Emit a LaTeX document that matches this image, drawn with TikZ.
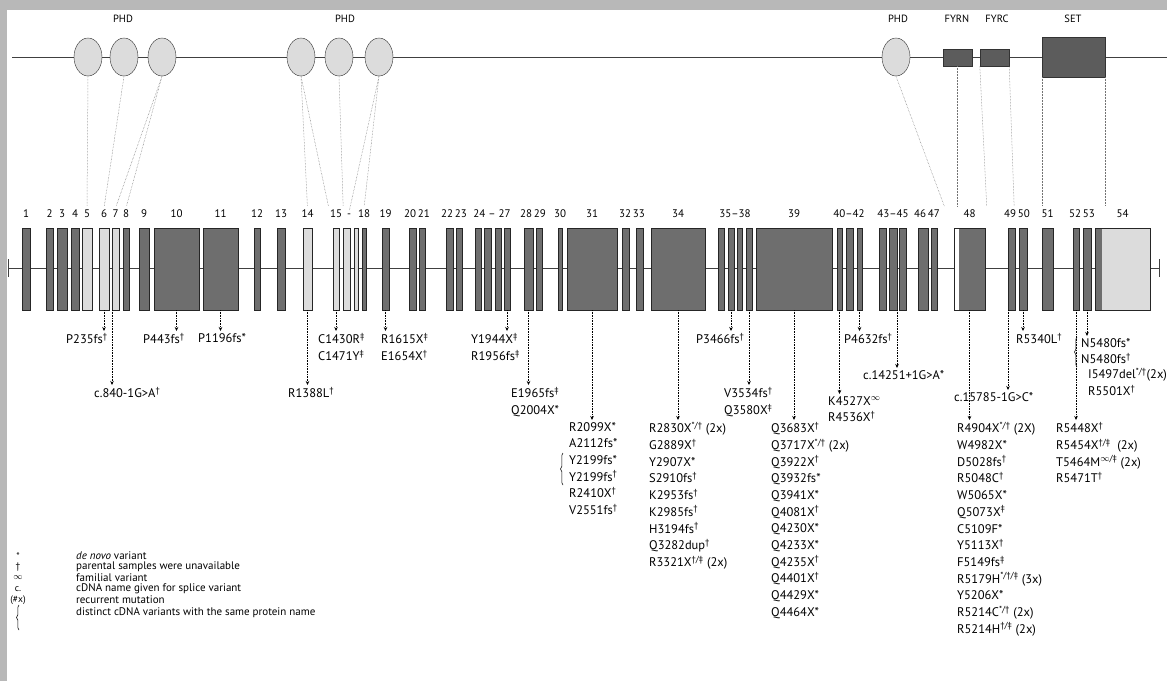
\documentclass[tikz,border=0pt]{standalone}
\usepackage{fontspec}
\setmainfont{PT Sans}
\usepackage{tikz}
\usetikzlibrary{arrows.meta,shapes.geometric,decorations.pathreplacing}

\newcommand\sdag{\textsuperscript{\textdagger}}
\newcommand\sddag{\textsuperscript{\textdaggerdbl}}
\newcommand\sinf{\textsuperscript{$\infty$}}

\definecolor{exdark}{HTML}{6E6E6E}
\definecolor{exlight}{HTML}{DCDCDC}
\definecolor{dombox}{HTML}{5C5C5C}
\definecolor{frame}{HTML}{B8B8B8}

\begin{document}
\begin{tikzpicture}[x=1pt, y=-1pt,
    exon/.style ={rectangle, draw=black!85, line width=0.5pt, fill=exdark, minimum height=82pt, inner sep=0pt, outer sep=0pt},
    lexon/.style={exon, fill=exlight},
    phd/.style  ={ellipse, draw=black!80, fill=exlight, minimum width=28pt, minimum height=38pt, inner sep=0pt},
    dom/.style  ={rectangle, draw=black!80, fill=dombox, inner sep=0pt},
    dlabel/.style={font=\fontsize{10.5}{12}\selectfont},
    num/.style  ={font=\fontsize{11}{12}\selectfont, inner sep=1pt, anchor=base},
    var/.style  ={font=\fontsize{12.5}{16.7}\selectfont, align=left, inner sep=1pt, anchor=north west},
    key/.style  ={font=\fontsize{11}{12}\selectfont, inner sep=1pt},
    sym/.style  ={font=\fontsize{9.5}{10}\selectfont, inner sep=0pt},
    guide/.style={densely dotted, black!55, line width=0.5pt, shorten >=2pt},
    arr/.style  ={densely dotted, line width=0.6pt, shorten >=1pt, -{Stealth[length=4pt, width=3.5pt]}},
    brc/.style  ={decorate, decoration={brace, amplitude=2.5pt}, line width=0.5pt}
]
  \useasboundingbox (0,0) rectangle (1167,681);
  \fill[frame] (0,0) rectangle (1167,10);
  \fill[frame] (0,0) rectangle (7,681);

  % protein
  \coordinate (pstart) at (12,57);
  \coordinate (pend)   at (1167,57);
  \draw[black!75, line width=0.6pt] (pstart) -- (pend);
  \foreach \n/\x in {1/88, 2/124, 3/162, 4/301, 5/339, 6/379, 7/896}
    \node[phd] (p\n) at (\x,57) {};
  \node[dom, minimum width=29pt, minimum height=17pt] (fyrn) at (957.5,57.5) {};
  \node[dom, minimum width=29pt, minimum height=17pt] (fyrc) at (994.5,57.5) {};
  \node[dom, minimum width=63pt, minimum height=40pt] (set)  at (1073.5,57) {};
  \node[dlabel] (lphdA) at (123,19) {PHD};
  \node[dlabel] (lphdB) at (345,19) {PHD};
  \node[dlabel] (lphdC) at (898,19) {PHD};
  \node[dlabel] (lfyrn) at (957,19) {FYRN};
  \node[dlabel] (lfyrc) at (997,19) {FYRC};
  \node[dlabel] (lset)  at (1073,19) {SET};

  % gene
  \coordinate (gstart) at (8,268);
  \coordinate (gend)   at (1160,268);
  \draw[black!75, line width=0.6pt, {Bar[width=18pt]}-{Bar[width=18pt]}] (gstart) -- (gend);
  \foreach \n/\a/\b in {1/22/30, 2/46/53, 3/57/67, 4/71/79, 8/123/129, 9/139/149, 10/154/199,
      11/203/238, 12/254/260, 13/277/285, 18/362/366, 19/382/389, 20/409/416, 21/419/425,
      22/446/453, 23/456/462, 24/475/481, 25/484/491, 26/495/501, 27/504/510, 28/524/533,
      29/536/542, 30/558/562, 31/567/617, 32/622/629, 33/636/643, 34/651/705, 35/718/724,
      36/728/734, 37/737/742, 38/746/752, 39/756/832, 40/837/842, 41/846/853, 42/857/862,
      43/879/886, 44/889/897, 45/899/906, 46/918/928, 47/931/937, 49/1008/1015,
      50/1019/1027, 51/1042/1053, 52/1073/1079, 53/1083/1091}
    \node[exon, minimum width={(\b-\a)*1pt}] (e\n) at ({(\a+\b)/2},269) {};
  \foreach \n/\a/\b in {5/82/92, 6/99/109, 7/112/119, 14/303/312, 15/333/339, 16/343/350, 17/354/358}
    \node[lexon, minimum width={(\b-\a)*1pt}] (e\n) at ({(\a+\b)/2},269) {};
  \node[exon, minimum width=31pt, path picture={\fill[white] (path picture bounding box.north west) rectangle ([xshift=5pt]path picture bounding box.south west);}] (e48) at (969.5,269) {};
  \node[lexon, minimum width=55pt, path picture={\fill[exdark] (path picture bounding box.north west) rectangle ([xshift=7pt]path picture bounding box.south west);}] (e54) at (1122.5,269) {};

  % exon numbers
  \foreach \n in {1,...,15,18,19,30,31,34,39,48,51,54}
    \node[num, yshift=11pt] (n\n) at (e\n.north) {\n};
  \node[num] (n16) at (349,217)  {-};
  \node[num] (n20) at (417,217)  {20\,21};
  \node[num] (n22) at (454,217)  {22\,23};
  \node[num] (n24) at (492,217)  {24 -- 27};
  \node[num] (n28) at (533,217)  {28\,29};
  \node[num] (n32) at (632,217)  {32\,33};
  \node[num] (n35) at (735,217)  {35--38};
  \node[num] (n40) at (849,217)  {40--42};
  \node[num] (n43) at (893,217)  {43--45};
  \node[num] (n46) at (927,217)  {46\,47};
  \node[num] (n49) at (1017,217) {49\,50};
  \node[num] (n52) at (1082,217) {52\,53};

  % domains to exons
  \draw[guide] (p1.south) -- (n5.north);
  \draw[guide] (p2.south) -- (n6.north);
  \draw[guide] (p3.south) -- (n7.north);
  \draw[guide] (p3.south) -- (n8.north);
  \draw[guide] (p4.south) -- (n14.north);
  \draw[guide] (p4.south) -- (n15.north west);
  \draw[guide] (p5.south) -- (n15.north east);
  \draw[guide] (p6.south) -- (n16.north);
  \draw[guide] (p6.south) -- (n18.north);
  \draw[guide] (p7.south) -- ([xshift=8pt]e47.north east |- n48.north);
  \draw[guide] (fyrn.south) -- (fyrn.south |- n48.north);
  \draw[guide] (fyrc.south west) -- ([xshift=7pt]fyrc.south west |- n48.north);
  \draw[guide] (fyrc.south east) -- ([xshift=5pt]fyrc.south east |- n49.north);
  \draw[guide] (set.south west) -- (set.south west |- n51.north);
  \draw[guide] (set.south east) -- (set.south east |- n54.north);

  % variants
  \node[var] (v235)  at (65,332)   {P235fs\sdag};
  \node[var] (v443)  at (142,332)  {P443fs\sdag};
  \node[var] (v1196) at (197,332)  {P1196fs*};
  \node[var] (v1430) at (317,332)  {C1430R\sddag\\C1471Y\sddag};
  \node[var] (v1615) at (380,332)  {R1615X\sddag\\E1654X\sdag};
  \node[var] (v1944) at (470,332)  {Y1944X\sddag\\R1956fs\sddag};
  \node[var] (v3466) at (695,332)  {P3466fs\sdag};
  \node[var] (v4632) at (843,332)  {P4632fs\sdag};
  \node[var] (v5340) at (1015,332) {R5340L\sdag};
  \node[var] (v5480) at (1080,337) {N5480fs*\\N5480fs\sdag};
  \node[var] (v5497) at (1087,367) {I5497del\textsuperscript{*/\textdagger}(2x)\\R5501X\sdag};

  \node[var] (v840)   at (93,386)  {c.840-1G>A\sdag};
  \node[var] (v1388)  at (287,386) {R1388L\sdag};
  \node[var] (v1965)  at (510,386) {E1965fs\sddag\\Q2004X*};
  \node[var] (v3534)  at (723,386) {V3534fs\sdag\\Q3580X\sddag};
  \node[var] (v14251) at (862,369) {c.14251+1G>A*};
  \node[var] (v4527)  at (827,395) {K4527X\sinf\\R4536X\sdag};
  \node[var] (v15785) at (953,391) {c.15785-1G>C*};

  \node[var] (v2099) at (568,421) {R2099X*\\A2112fs*\\Y2199fs*\\Y2199fs\sdag\\R2410X\sdag\\V2551fs\sdag};
  \node[var] (v2830) at (648,421) {R2830X\textsuperscript{*/\textdagger} (2x)\\G2889X\sdag\\Y2907X*\\S2910fs\sdag\\K2953fs\sdag\\K2985fs\sdag\\H3194fs\sdag\\Q3282dup\sdag\\R3321X\textsuperscript{\textdagger/\textdaggerdbl} (2x)};
  \node[var] (v3683) at (770,421) {Q3683X\sdag\\Q3717X\textsuperscript{*/\textdagger} (2x)\\Q3922X\sdag\\Q3932fs*\\Q3941X*\\Q4081X\sdag\\Q4230X*\\Q4233X*\\Q4235X\sdag\\Q4401X\sdag\\Q4429X*\\Q4464X*};
  \node[var] (v4904) at (956,421) {R4904X\textsuperscript{*/\textdagger} (2X)\\W4982X*\\D5028fs\sdag\\R5048C\sdag\\W5065X*\\Q5073X\sddag\\C5109F*\\Y5113X\sdag\\F5149fs\sddag\\R5179H\textsuperscript{*/\textdagger/\textdaggerdbl} (3x)\\Y5206X*\\R5214C\textsuperscript{*/\textdagger} (2x)\\R5214H\textsuperscript{\textdagger/\textdaggerdbl} (2x)};
  \node[var] (v5448) at (1055,421) {R5448X\sdag\\R5454X\textsuperscript{\textdagger/\textdaggerdbl}\ \ (2x)\\T5464M\textsuperscript{$\infty$/\textdaggerdbl} (2x)\\R5471T\sdag};

  \draw[brc] (563,485) -- (563,453);
  \draw[brc] (1077,367) -- (1077,337);

  \draw[arr] (e6.south)  -- (e6.south |- v235.north);
  \draw[arr] (e7.south west) -- (e7.south west |- v840.north);
  \draw[arr] (e10.south) -- (e10.south |- v443.north);
  \draw[arr] (e11.south) -- (e11.south |- v1196.north);
  \draw[arr] (e14.south) -- (e14.south |- v1388.north);
  \draw[arr] (e15.south) -- (e15.south |- v1430.north);
  \draw[arr] (e19.south) -- (e19.south |- v1615.north);
  \draw[arr] (e27.south) -- (e27.south |- v1944.north);
  \draw[arr] (e28.south) -- (e28.south |- v1965.north);
  \draw[arr] (e31.south) -- (e31.south |- v2099.north);
  \draw[arr] (e34.south) -- (e34.south |- v2830.north);
  \draw[arr] (e36.south) -- (e36.south |- v3466.north);
  \draw[arr] (e38.south) -- (e38.south |- v3534.north);
  \draw[arr] (e39.south) -- (e39.south |- v3683.north);
  \draw[arr] (e40.south) -- (e40.south |- v4527.north);
  \draw[arr] (e42.south) -- (e42.south |- v4632.north);
  \draw[arr] (e44.south east) -- (e44.south east |- v14251.north);
  \draw[arr] (e48.south) -- (e48.south |- v4904.north);
  \draw[arr] (e49.south west) -- (e49.south west |- v15785.north);
  \draw[arr] (e50.south) -- (e50.south |- v5340.north);
  \draw[arr] (e52.south) -- (e52.south |- v5448.north);
  \draw[arr] (e53.south) -- (e53.south |- v5480.north);

  % legend
  \foreach \i/\s/\t/\y in {1/{*}/{\textit{de novo} variant}/556,
      2/{\textdagger}/{parental samples were unavailable}/567,
      3/{$\infty$}/{familial variant}/578,
      4/{c.}/{cDNA name given for splice variant}/589,
      5/{(\#x)}/{recurrent mutation}/600} {
    \node[sym] (ks\i) at (18,\y) {\s};
    \node[key, anchor=west] (kt\i) at (75,\y) {\t};
  }
  \draw[brc] (19,630) -- (19,605);
  \node[key, anchor=west] (kt6) at (75,613) {distinct cDNA variants with the same protein name};
\end{tikzpicture}
\end{document}
